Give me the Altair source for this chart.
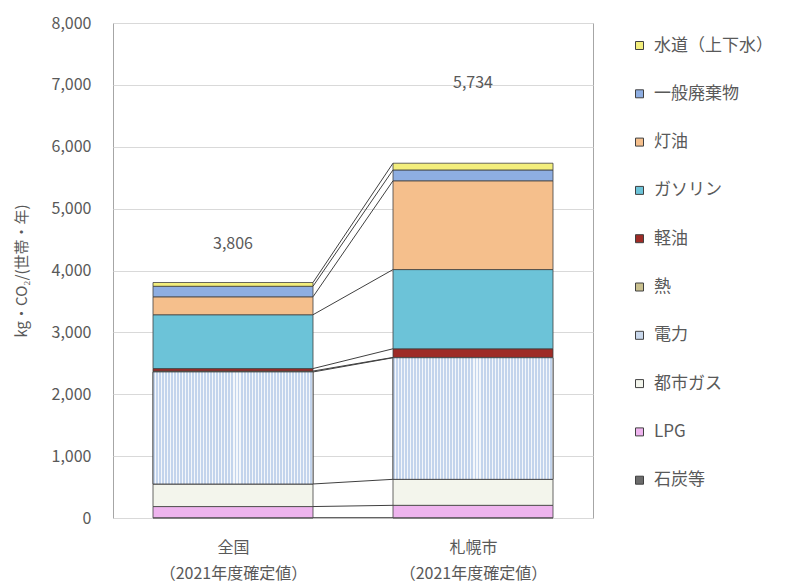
import altair as alt
import pandas as pd

categories = ["全国", "札幌市"]
category_note = "（2021年度確定値）"
series = ["石炭等", "LPG", "都市ガス", "電力", "熱", "軽油", "ガソリン", "灯油", "一般廃棄物", "水道（上下水）"]
values_zenkoku = [5, 180, 365, 1810, 15, 40, 870, 290, 170, 61]
values_sapporo = [5, 200, 420, 1965, 5, 140, 1280, 1435, 175, 109]
totals = [3806, 5734]
colors = ["#6b6b6b", "#eeb4ee", "#f3f5ec", "#c9d8ec", "#c9c08e", "#9e2b26",
          "#6cc3d8", "#f5bf8c", "#8eaee2", "#f3ee7c"]
y_ticks = [0, 1000, 2000, 3000, 4000, 5000, 6000, 7000, 8000]

FONT = "Noto Sans CJK JP"
TXT = "#595959"

rows = []
for ci, (cat, vals) in enumerate(zip(categories, [values_zenkoku, values_sapporo])):
    for si, (s, v) in enumerate(zip(series, vals)):
        rows.append({"cat": cat, "idx": ci, "series": s, "order": si, "value": v})
df = pd.DataFrame(rows)

tot_df = pd.DataFrame({"idx": list(range(len(categories))), "total": totals})

label_expr = " : ".join(
    [f"datum.value == {i} ? ['{c}', '{category_note}']" for i, c in enumerate(categories[:-1])]
    + [f"['{categories[-1]}', '{category_note}']"]
)

xscale = alt.Scale(domain=[-0.5, 1.5], nice=False, zero=False)
yscale = alt.Scale(domain=[0, 8000], nice=False)

base = alt.Chart(df).transform_stack(
    stack="value", groupby=["idx"], as_=["y0", "y1"],
    sort=[alt.SortField("order", order="ascending")]
).transform_calculate(
    xl="datum.idx - 1/3", xr="datum.idx + 1/3"
)

bars = base.mark_rect(stroke="#404040", strokeWidth=0.8).encode(
    x=alt.X("xl:Q", scale=xscale, title=None,
            axis=alt.Axis(values=[0, 1], labelExpr=label_expr, grid=False, ticks=False,
                          domain=False, labelFont=FONT, labelFontSize=16, labelColor=TXT,
                          labelPadding=21, labelLineHeight=26, labelBaseline="top")),
    x2="xr:Q",
    y=alt.Y("y0:Q", scale=yscale, title="kg‧CO₂/(世帯‧年)",
            axis=alt.Axis(values=y_ticks, format=",.0f", grid=True, gridColor="#d9d9d9",
                          ticks=False, domain=False, labelFont=FONT, labelFontSize=16,
                          labelColor=TXT, labelPadding=22, titleFont=FONT, titleFontSize=15,
                          titleColor=TXT, titleFontWeight="normal", titlePadding=22)),
    y2="y1:Q",
    color=alt.Color("series:N",
                    scale=alt.Scale(domain=series[::-1], range=colors[::-1]),
                    legend=alt.Legend(title=None, orient="none", legendX=518, legendY=14,
                                      symbolType="square", symbolSize=64,
                                      symbolStrokeColor="#404040", symbolStrokeWidth=1,
                                      labelFont=FONT, labelFontSize=17, labelColor=TXT,
                                      rowPadding=30.3, labelOffset=6, padding=0)),
    order=alt.Order("order:Q"),
)

# vertical stripe texture for 電力
stops = []
n = 53
for k in range(n):
    stops.append({"offset": k / n, "color": "#c3d4ec"})
    stops.append({"offset": (k + 0.65) / n, "color": "#c3d4ec"})
    stops.append({"offset": (k + 0.65) / n, "color": "#f4f7fb"})
    stops.append({"offset": (k + 1) / n, "color": "#f4f7fb"})
stripe = {"gradient": "linear", "x1": 0, "x2": 1, "y1": 0, "y2": 0, "stops": stops}

power = base.transform_filter(alt.datum.series == "電力").mark_rect(
    fill=stripe, stroke="#404040", strokeWidth=0.8
).encode(
    x=alt.X("xl:Q", scale=xscale), x2="xr:Q",
    y=alt.Y("y0:Q", scale=yscale), y2="y1:Q",
)

connectors = base.transform_calculate(
    xc="datum.idx == 0 ? datum.idx + 1/3 : datum.idx - 1/3"
).mark_line(color="#404040", strokeWidth=1).encode(
    x=alt.X("xc:Q", scale=xscale),
    y=alt.Y("y1:Q", scale=yscale),
    detail="series:N",
)

tot_base = alt.Chart(tot_df)
lab0 = tot_base.transform_filter("datum.idx == 0").mark_text(
    font=FONT, fontSize=16, color=TXT, baseline="middle", dy=-39
).encode(x=alt.X("idx:Q", scale=xscale), y=alt.Y("total:Q", scale=yscale),
         text=alt.Text("total:Q", format=","))
lab1 = tot_base.transform_filter("datum.idx == 1").mark_text(
    font=FONT, fontSize=16, color=TXT, baseline="middle", dy=-80
).encode(x=alt.X("idx:Q", scale=xscale), y=alt.Y("total:Q", scale=yscale),
         text=alt.Text("total:Q", format=","))

chart = alt.layer(bars, power, connectors, lab0, lab1).properties(
    width=480, height=495,
    autosize=alt.AutoSizeParams(type="none"),
    padding={"left": 113, "top": 23, "right": 192, "bottom": 64},
    background="white",
).configure_view(stroke="#a6a6a6", strokeWidth=1)

chart.save("out.html", embed_options={"renderer": "svg", "actions": False})
